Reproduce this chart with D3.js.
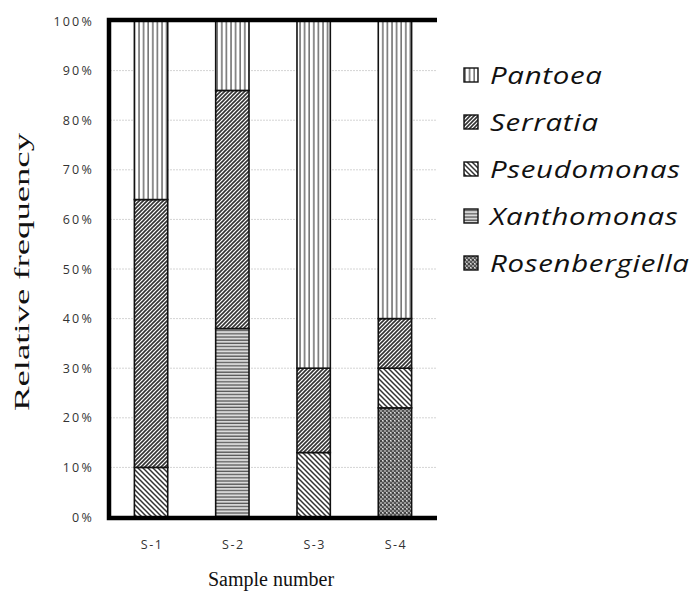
<!DOCTYPE html>
<html>
<head>
<meta charset="utf-8">
<script src="https://cdn.jsdelivr.net/npm/d3@7"></script>
<style>
  body { margin: 0; background: #fff; }
  svg { display: block; }
  text { font-variant-ligatures: none; }
</style>
</head>
<body>
<svg id="chart" width="692" height="595"></svg>
<script>
// data (percent of each sample)
var samples = ['S-1', 'S-2', 'S-3', 'S-4'];
var genera = ['Rosenbergiella', 'Xanthomonas', 'Pseudomonas', 'Serratia', 'Pantoea'];
var rosenbergiella = [0, 0, 0, 22];
var xanthomonas = [0, 38, 0, 0];
var pseudomonas = [10, 0, 13, 8];
var serratia = [54, 48, 17, 10];
var pantoea = [36, 14, 70, 60];
var legendOrder = ['Pantoea', 'Serratia', 'Pseudomonas', 'Xanthomonas', 'Rosenbergiella'];
var yTicks = [0, 10, 20, 30, 40, 50, 60, 70, 80, 90, 100];

(function () {
    var rows = samples.map(function (s, i) {
        return {
            sample: s,
            Rosenbergiella: rosenbergiella[i],
            Xanthomonas: xanthomonas[i],
            Pseudomonas: pseudomonas[i],
            Serratia: serratia[i],
            Pantoea: pantoea[i]
        };
    });

    var svg = d3.select('#chart');
    var plotLeft = 110, plotRight = 436, plotTop = 21, plotBottom = 517;

    var x = d3.scaleBand().domain(samples).range([plotLeft, plotRight]).paddingInner(0.59).paddingOuter(0.3);
    var y = d3.scaleLinear().domain([0, 100]).range([plotBottom, plotTop]);

    // hatch patterns
    var defs = svg.append('defs');
    function pattern(id, w, h, bg, draw) {
        var p = defs.append('pattern').attr('id', id)
            .attr('patternUnits', 'userSpaceOnUse')
            .attr('width', w).attr('height', h);
        p.append('rect').attr('width', w).attr('height', h).attr('fill', bg);
        draw(p);
    }
    pattern('pat-pantoea', 4.6, 10, '#fff', function (p) {
        p.append('line').attr('x1', 1).attr('x2', 1).attr('y1', 0).attr('y2', 10)
            .attr('stroke', '#444').attr('stroke-width', 1.2);
    });
    pattern('pat-serratia', 4, 4, '#fff', function (p) {
        p.append('path').attr('d', 'M-1,1 L1,-1 M0,4 L4,0 M3,5 L5,3')
            .attr('stroke', '#333').attr('stroke-width', 1.6);
    });
    pattern('pat-pseudomonas', 5, 5, '#fff', function (p) {
        p.append('path').attr('d', 'M-1,4 L1,6 M0,0 L5,5 M4,-1 L6,1')
            .attr('stroke', '#333').attr('stroke-width', 1.5);
    });
    pattern('pat-xanthomonas', 10, 3.2, '#ddd', function (p) {
        p.append('line').attr('x1', 0).attr('x2', 10).attr('y1', 1).attr('y2', 1)
            .attr('stroke', '#555').attr('stroke-width', 1.3);
    });
    pattern('pat-rosenbergiella', 4, 4, '#9a9a9a', function (p) {
        p.append('rect').attr('x', 0).attr('y', 0).attr('width', 2).attr('height', 2).attr('fill', '#444');
        p.append('rect').attr('x', 2).attr('y', 2).attr('width', 2).attr('height', 2).attr('fill', '#555');
        p.append('rect').attr('x', 2).attr('y', 0).attr('width', 1).attr('height', 1).attr('fill', '#ddd');
    });
    var fills = {
        Pantoea: 'url(#pat-pantoea)',
        Serratia: 'url(#pat-serratia)',
        Pseudomonas: 'url(#pat-pseudomonas)',
        Xanthomonas: 'url(#pat-xanthomonas)',
        Rosenbergiella: 'url(#pat-rosenbergiella)'
    };

    // gridlines
    svg.append('g').selectAll('line').data(yTicks.slice(1, -1)).join('line')
        .attr('x1', plotLeft).attr('x2', plotRight)
        .attr('y1', function (d) { return y(d); }).attr('y2', function (d) { return y(d); })
        .attr('stroke', '#d4d4d4').attr('stroke-width', 1).attr('stroke-dasharray', '2,1');

    // y tick labels
    svg.append('g').selectAll('text').data(yTicks).join('text')
        .attr('x', 94).attr('y', function (d) { return y(d) + 4.5; })
        .attr('text-anchor', 'end')
        .attr('font-family', 'Open Sans, sans-serif').attr('font-size', 12.5)
        .attr('letter-spacing', 2.2).attr('fill', '#333')
        .text(function (d) { return d + '%'; });

    // stacked bars
    var stacked = d3.stack().keys(genera)(rows);
    var layers = svg.append('g').selectAll('g').data(stacked).join('g')
        .attr('fill', function (d) { return fills[d.key]; });
    layers.selectAll('rect').data(function (d) { return d.filter(function (v) { return v[1] - v[0] > 0; }); })
        .join('rect')
        .attr('x', function (d) { return x(d.data.sample); })
        .attr('width', x.bandwidth())
        .attr('y', function (d) { return y(d[1]); })
        .attr('height', function (d) { return y(d[0]) - y(d[1]); })
        .attr('stroke', '#111').attr('stroke-width', 1.6);

    // x tick labels
    svg.append('g').selectAll('text').data(samples).join('text')
        .attr('x', function (d) { return x(d) + x.bandwidth() / 2 + 1; }).attr('y', 549)
        .attr('text-anchor', 'middle')
        .attr('font-family', 'Open Sans, sans-serif').attr('font-size', 12.5)
        .attr('letter-spacing', 1.5).attr('fill', '#333')
        .text(function (d) { return d; });

    // frame: top, left, bottom (no right side)
    svg.append('path')
        .attr('d', 'M' + (plotRight + 1) + ',' + (plotTop - 1) + ' H' + (plotLeft - 1) +
            ' V' + (plotBottom + 1) + ' H' + (plotRight + 1))
        .attr('fill', 'none').attr('stroke', '#000').attr('stroke-width', 4.5);

    // axis titles
    svg.append('text')
        .attr('transform', 'translate(29,272) rotate(-90)')
        .attr('text-anchor', 'middle')
        .attr('font-family', 'Liberation Serif, Times New Roman, serif').attr('font-size', 20.5).attr('fill', '#111')
        .attr('textLength', 278).attr('lengthAdjust', 'spacingAndGlyphs')
        .text('Relative frequency');
    svg.append('text')
        .attr('x', 271).attr('y', 586)
        .attr('text-anchor', 'middle')
        .attr('font-family', 'Liberation Serif, Times New Roman, serif').attr('font-size', 20).attr('fill', '#111')
        .text('Sample number');

    // legend (glyphs look stretched sideways in the source, so widen them a bit)
    var legend = svg.append('g').selectAll('g').data(legendOrder).join('g')
        .attr('transform', function (d, i) { return 'translate(464,' + (75 + i * 47) + ')'; });
    legend.append('rect')
        .attr('x', 0).attr('y', -7).attr('width', 14).attr('height', 14)
        .attr('fill', function (d) { return fills[d]; })
        .attr('stroke', '#111').attr('stroke-width', 1.4);
    legend.append('text')
        .attr('transform', 'translate(26,9) scale(1.2,1)')
        .attr('font-family', 'Open Sans, sans-serif').attr('font-style', 'italic').attr('font-size', 24.5)
        .attr('letter-spacing', 0.6).attr('fill', '#111')
        .text(function (d) { return d; });
})();
</script>
</body>
</html>
